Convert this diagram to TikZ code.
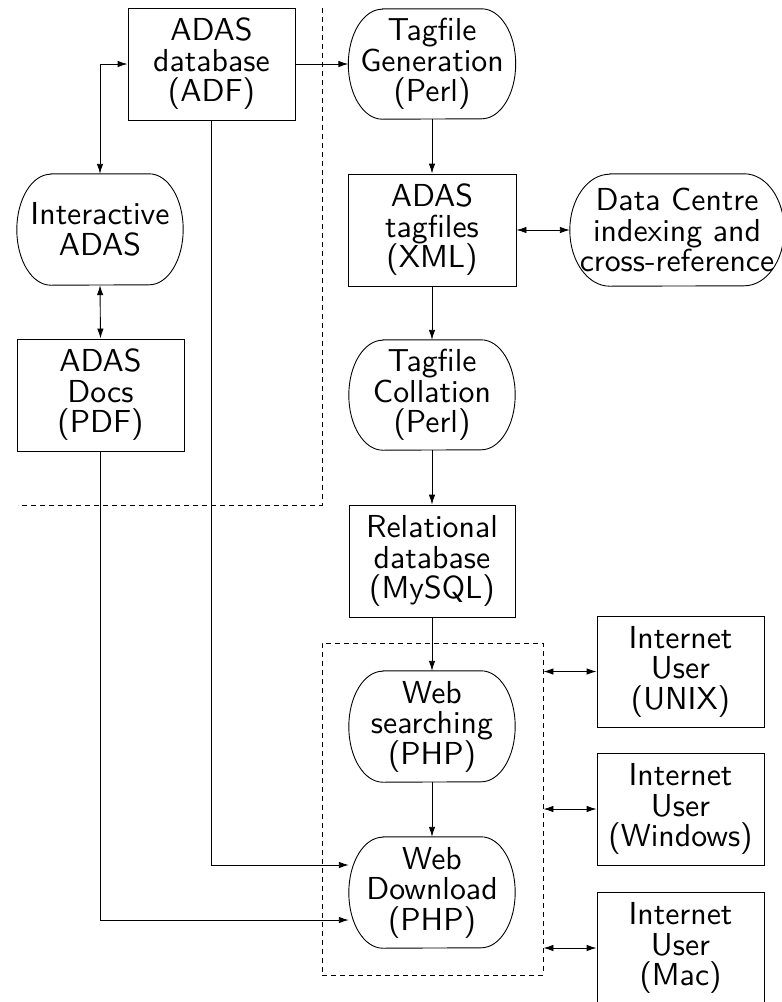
\documentclass[tikz,border=0pt]{standalone}
\usepackage{fontspec}
\setsansfont{lmsans10-regular.otf}
\usetikzlibrary{arrows.meta}
\tikzset{
  txt/.style={font=\sffamily\fontsize{31.8}{30.5}\selectfont, align=center, inner sep=0pt},
  boxnode/.style={txt, draw, line width=0.9pt, minimum width=167pt, minimum height=112pt},
  ovalnode/.style={txt, minimum width=167pt, minimum height=111pt},
  tip/.style={Latex[length=10pt,width=6.5pt]},
  conn/.style={line width=0.9pt, -{Latex[length=10pt,width=6.5pt]}},
  biconn/.style={line width=0.9pt, {Latex[length=10pt,width=6.5pt]}-{Latex[length=10pt,width=6.5pt]}},
  dashline/.style={line width=0.9pt, dash pattern=on 5pt off 4pt},
  ovalline/.style={line width=0.9pt}
}
% oval outline around a node: #1 name, #2 horizontal corner radius, #3 half height
\newcommand{\ovaloutline}[3]{%
  \draw[ovalline] ([xshift=#2]#1.north west) -- ([xshift=-#2]#1.north east)
    arc[start angle=90, end angle=-90, x radius=#2, y radius=#3]
    -- ([xshift=#2]#1.south west)
    arc[start angle=270, end angle=90, x radius=#2, y radius=#3] -- cycle;}
\begin{document}
\begin{tikzpicture}[x=1pt,y=-1pt]
\useasboundingbox (0,0) rectangle (782,1002);
% nodes
\node[boxnode] (adf) at (211.5,64) {ADAS\\database\\(ADF)};
\node[ovalnode, minimum height=110pt] (tgen) at (432,64) {Tagfile\\Generation\\(Perl)};
\node[ovalnode, minimum width=166pt] (inter) at (100,229.5) {Interactive\\ADAS};
\node[boxnode] (docs) at (100.5,395) {ADAS\\Docs\\(PDF)};
\node[boxnode, minimum width=168pt] (tagf) at (432,230) {ADAS\\tagfiles\\(XML)};
\node[ovalnode, minimum width=214pt, minimum height=112pt] (dc) at (677,230) {Data Centre\\indexing and\\cross-reference};
\node[ovalnode, minimum width=166pt, minimum height=110pt] (tcol) at (432,395) {Tagfile\\Collation\\(Perl)};
\node[boxnode, minimum width=166pt] (rel) at (432,561) {Relational\\database\\(MySQL)};
\node[ovalnode, minimum width=166pt] (wsearch) at (432,726.5) {Web\\searching\\(PHP)};
\node[ovalnode, minimum width=166pt] (wdown) at (432,892.5) {Web\\Download\\(PHP)};
\node[boxnode, minimum height=111pt] (unix) at (680.5,671.5) {Internet\\User\\(UNIX)};
\node[boxnode] (win) at (680.5,809) {Internet\\User\\(Windows)};
\node[boxnode] (mac) at (680.5,948) {Internet\\User\\(Mac)};
% oval outlines
\ovaloutline{tgen}{34pt}{55pt}
\ovaloutline{inter}{34pt}{55.5pt}
\ovaloutline{dc}{40pt}{56pt}
\ovaloutline{tcol}{34pt}{55pt}
\ovaloutline{wsearch}{34pt}{55.5pt}
\ovaloutline{wdown}{34pt}{55.5pt}
% dashed regions
\node[draw, dashline, minimum width=221pt, minimum height=332pt, inner sep=0pt] (dbox) at (432.5,809) {};
\coordinate (ltop) at (322,8);
\coordinate (lcorner) at (322,505);
\coordinate (lleft) at (18,505);
\draw[dashline] (ltop) -- (lcorner) -- (lleft);
% connectors
\draw[conn] (adf.east) -- (tgen.west);
\draw[biconn] (adf.west) -| (inter.north);
\draw[biconn] (inter.south) -- (docs.north);
\draw[conn] (tgen.south) -- (tagf.north);
\draw[biconn] (tagf.east) -- (dc.west);
\draw[conn] (tagf.south) -- (tcol.north);
\draw[conn] (tcol.south) -- (rel.north);
\draw[conn] (rel.south) -- (wsearch.north);
\draw[conn] (wsearch.south) -- (wdown.north);
\coordinate (wdA) at ([yshift=27.5pt]wdown.west);
\coordinate (wdB) at ([yshift=-27.5pt]wdown.west);
\draw[conn] (adf.south) |- (wdA);
\draw[conn] (docs.south) |- (wdB);
\draw[biconn] (dbox.east |- unix.west) -- (unix.west);
\draw[biconn] (dbox.east |- win.west) -- (win.west);
\draw[biconn] (dbox.east |- mac.west) -- (mac.west);
\end{tikzpicture}
\end{document}
